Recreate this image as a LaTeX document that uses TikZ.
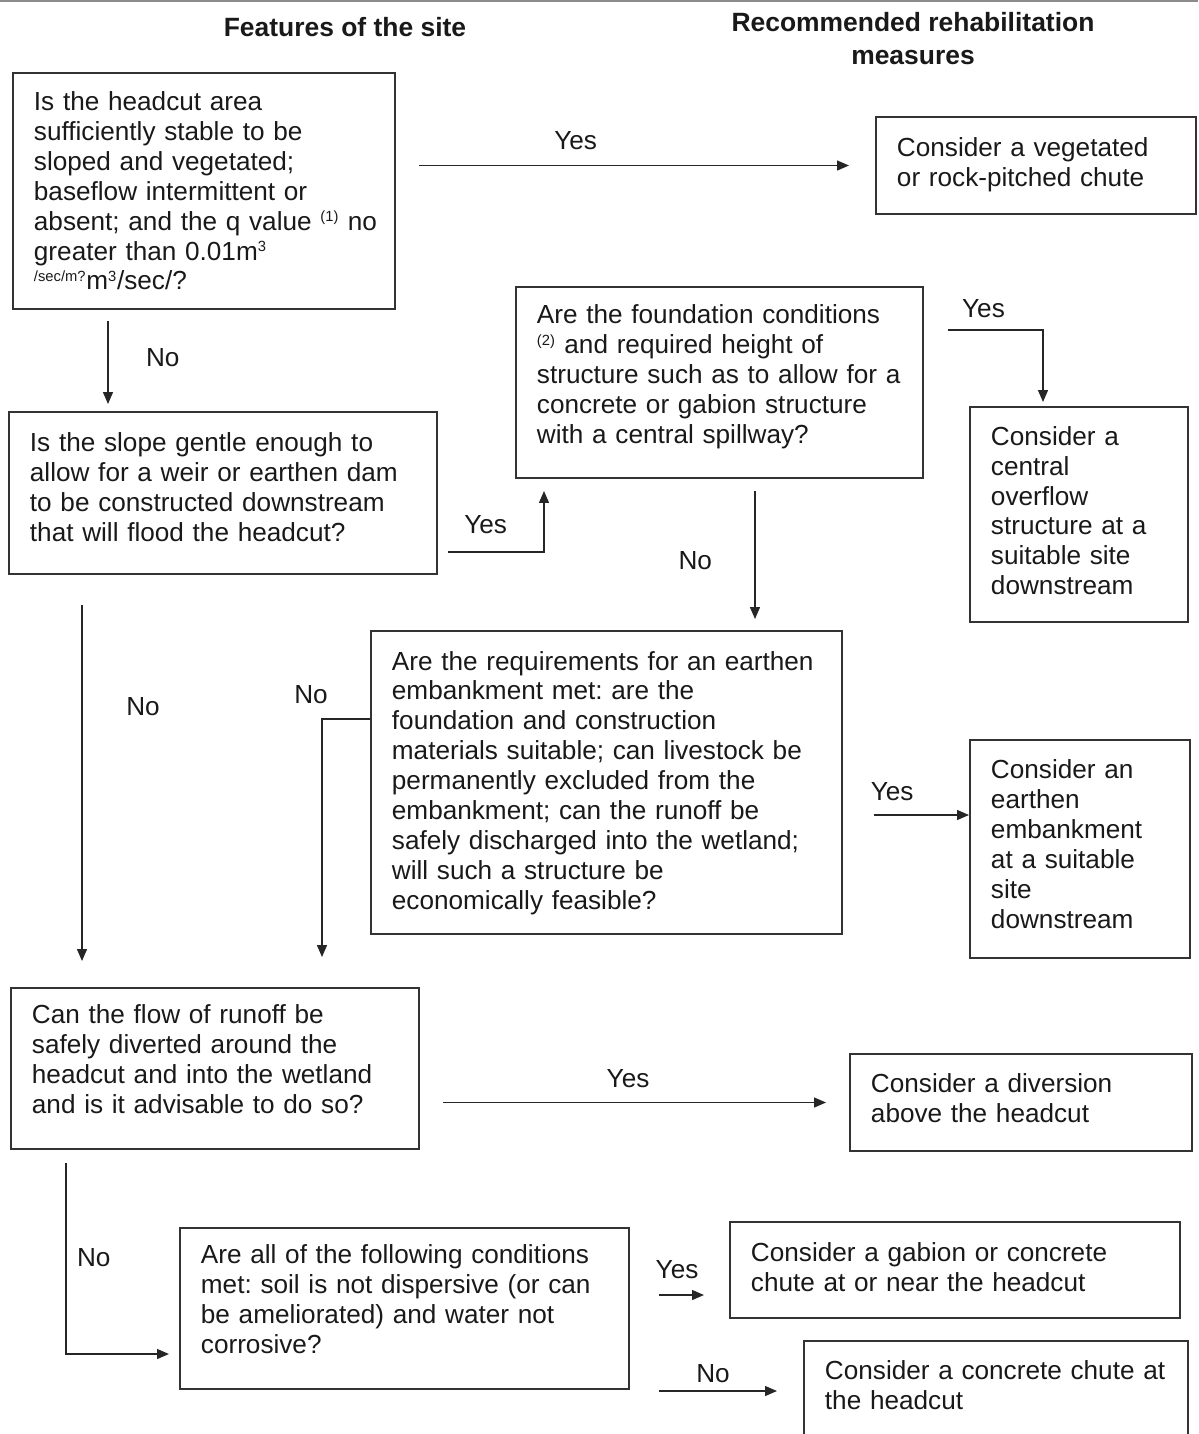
\documentclass[tikz,border=0pt]{standalone}
\usepackage{fontspec}
\setmainfont{Liberation Sans}
\usetikzlibrary{arrows.meta,positioning,calc}
\newcommand\bodyfont{\fontsize{18.6}{21.3}\selectfont\frenchspacing}
\newcommand\headfont{\fontsize{18.8}{23.5}\selectfont\bfseries}
\newcommand\fnote[1]{\textsuperscript{\fontsize{10.5}{10.5}\selectfont #1}}
\tikzset{
  lift/.style = {execute at end node={\par\vspace*{#1}}},
  qbox/.style = {draw=black!80, line width=1.3pt, rectangle, align=left,
                 inner xsep=0.525cm, inner ysep=0pt, font=\bodyfont, text=black!90, lift=0pt},
  head/.style = {font=\headfont, align=center, text=black!90, inner sep=0pt},
  lbl/.style  = {font=\bodyfont, inner sep=0pt, text=black!90},
  sig/.style  = {-{Triangle[length=8.5pt,width=7pt]}, line width=1.15pt, draw=black!85},
}

\begin{document}
\begin{tikzpicture}[x=0.025cm,y=-0.025cm]
\useasboundingbox (0,0) rectangle (1198,1434);
\draw[black!45, line width=1pt] (0,0.8) -- (1198,0.8);

% column headings
\node[head] (hFeat) at (345,27) {Features of the site};
\node[head] (hRec) at (913,39) {Recommended rehabilitation\\measures};

% questions (left) and measures (right)
\node[qbox, text width=8.5cm, minimum height=5.9cm, lift=0.3pt] (qA) at (204,191)
  {Is the headcut area\\ sufficiently stable to be\\ sloped and vegetated;\\
   baseflow intermittent or\\ \mbox{absent; and the q value \fnote{(1)} no}\\
   greater than 0.01m\fnote{3}\\ \fnote{/sec/m?}m\fnote{3}/sec/?};
\node[qbox, text width=6.95cm, minimum height=2.425cm, lift=1.7pt] (m1) at (1036,165.5)
  {Consider a vegetated\\ or rock-pitched chute};
\node[qbox, text width=9.65cm, minimum height=4.05cm, lift=8.7pt] (qB) at (223,493)
  {Is the slope gentle enough to\\ allow for a weir or earthen dam\\
   to be constructed downstream\\ that will flood the headcut?};
\node[qbox, text width=9.125cm, minimum height=4.775cm, lift=7.7pt] (qC) at (719.5,382.5)
  {Are the foundation conditions\\ \fnote{(2)} and required height of\\
   \mbox{structure such as to allow for a}\\ concrete or gabion structure\\
   with a central spillway?};
\node[qbox, text width=4.4cm, minimum height=5.375cm, lift=5.5pt] (m2) at (1079,514.5)
  {Consider a\\ central\\ overflow\\ structure at a\\ suitable site\\ downstream};
\node[qbox, text width=10.725cm, minimum height=7.575cm, lift=-0.8pt] (qD) at (606.5,782.5)
  {Are the requirements for an earthen\\ embankment met: are the\\
   foundation and construction\\ materials suitable; can livestock be\\
   permanently excluded from the\\ embankment; can the runoff be\\
   safely discharged into the wetland;\\ will such a structure be\\
   economically feasible?};
\node[qbox, text width=4.45cm, minimum height=5.45cm, lift=7pt] (m3) at (1080,849)
  {Consider an\\ earthen\\ embankment\\ at a suitable\\ site\\ downstream};
\node[qbox, text width=9.15cm, minimum height=4.025cm, lift=13.1pt] (qE) at (215,1068.5)
  {Can the flow of runoff be\\ safely diverted around the\\
   headcut and into the wetland\\ and is it advisable to do so?};
\node[qbox, text width=7.5cm, minimum height=2.425cm, lift=6pt] (m4) at (1021,1102.5)
  {Consider a diversion\\ above the headcut};
\node[qbox, text width=10.175cm, minimum height=4.025cm, lift=13.1pt] (qF) at (404.5,1308.5)
  {Are all of the following conditions\\ met: soil is not dispersive (or can\\
   be ameliorated) and water not\\ corrosive?};
\node[qbox, text width=10.2cm, minimum height=2.4cm, lift=4.5pt] (m5) at (955,1270)
  {Consider a gabion or concrete\\ chute at or near the headcut};
\node[qbox, text width=8.55cm, minimum height=2.5cm, lift=8.5pt] (m6) at (996,1391)
  {\mbox{Consider a concrete chute at}\\ the headcut};

% bends of the connectors
\coordinate (kAB) at (108,0);
\coordinate (kBC) at (544,552);
\coordinate (kCM) at (1043,330);
\coordinate (kCD) at (755,0);
\coordinate (kDM) at (0,815);
\coordinate (kDE) at (322,719);
\coordinate (kBE) at (82,0);
\coordinate (kEF) at (66,1354);
\coordinate (kFM) at (0,1295);

% connectors
\draw[sig, shorten <=0.575cm, shorten >=0.65cm] (qA.east |- m1.west) -- node[lbl, above=10.4pt, pos=0.375] (yA) {Yes} (m1.west);
\draw[sig, shorten <=0.275cm, shorten >=0.175cm] (qA.south -| kAB) -- node[lbl, right=26.5pt, pos=0.47] (nA) {No} (qB.north -| kAB);
\draw[sig, shorten <=0.25cm, shorten >=0.3cm] (qB.east |- kBC) -- node[lbl, above=12.5pt, pos=0.45] (yB) {Yes} (kBC) -- (qC.south -| kBC);
\draw[sig, shorten <=0.6cm, shorten >=0.1cm] (qC.east |- kCM) -- node[lbl, above=8.3pt, pos=0.5] (yC) {Yes} (kCM) -- (m2.north -| kCM);
\draw[sig, shorten <=0.3cm, shorten >=0.275cm] (qC.south -| kCD) -- node[lbl, left=30pt, pos=0.54] (nC) {No} (qD.north -| kCD);
\draw[sig, shorten <=0.775cm] (qD.east |- kDM) -- node[lbl, above=9.7pt, pos=0.39] (yD) {Yes} (m3.west |- kDM);
\draw[sig, shorten >=0.75cm] (qD.west |- kDE) -- (kDE) -- node[lbl, above=10.4pt, pos=0, xshift=-0.275cm] (nD) {No} (qE.north -| kDE);
\draw[sig, shorten <=0.75cm, shorten >=0.65cm] (qB.south -| kBE) -- node[lbl, right=30.9pt, pos=0.32] (nB) {No} (qE.north -| kBE);
\draw[sig, shorten <=0.575cm, shorten >=0.575cm] (qE.east |- m4.west) -- node[lbl, above=9.7pt, pos=0.485] (yE) {Yes} (m4.west);
\draw[sig, shorten <=0.325cm, shorten >=0.25cm] (qE.south -| kEF) -- node[lbl, right=7.3pt, pos=0.527] (nE) {No} (kEF) -- (qF.west |- kEF);
\draw[sig, shorten <=0.725cm, shorten >=0.625cm] (qF.east |- kFM) -- node[lbl, above=11.1pt, pos=0.475] (yF) {Yes} (m5.west |- kFM);
\draw[sig, shorten <=0.725cm, shorten >=0.65cm] (qF.east |- m6.west) -- node[lbl, above=5.5pt, pos=0.48] (nF) {No} (m6.west);
\end{tikzpicture}
\end{document}
